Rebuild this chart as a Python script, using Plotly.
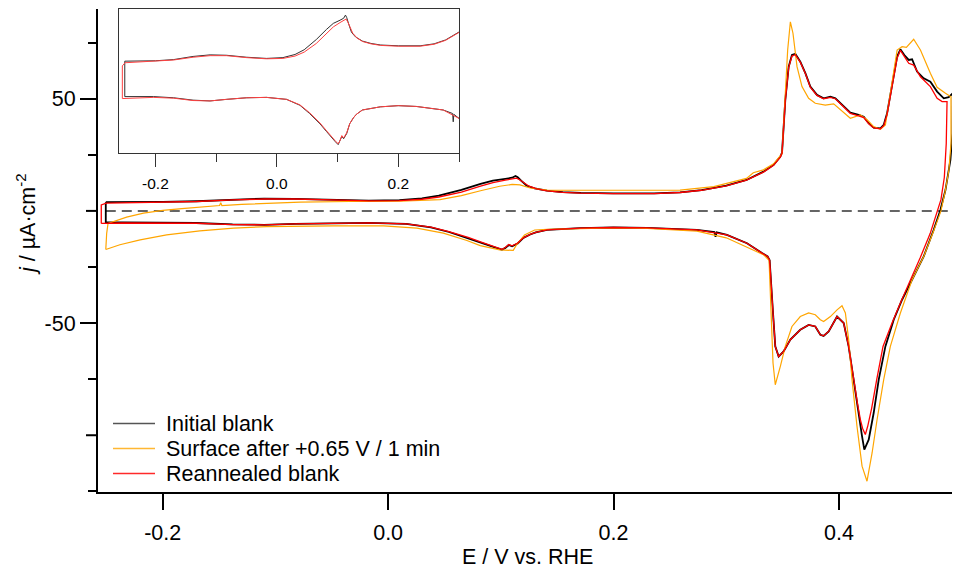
import plotly.graph_objects as go

# ---------------------------------------------------------------------------
# Cyclic voltammograms, E / V vs. RHE and j / uA cm^-2
# Each scan = anodic branch (-0.25 -> 0.5 V) followed by cathodic branch.
# ---------------------------------------------------------------------------

# Initial blank
INITIAL_ANODIC_E = [-0.2505, -0.23, -0.2, -0.17, -0.138, -0.11, -0.083, -0.05, -0.017, 0.01,
                    0.03, 0.045, 0.065, 0.082, 0.093, 0.104, 0.110, 0.113, 0.115, 0.118,
                    0.123, 0.130, 0.141, 0.155, 0.171, 0.2, 0.236, 0.259, 0.278, 0.3,
                    0.318, 0.333, 0.342, 0.348, 0.3495, 0.3524, 0.3554, 0.3583, 0.3613, 0.3657,
                    0.3702, 0.3746, 0.3805, 0.3864, 0.3924, 0.3968, 0.4027, 0.4101, 0.4175, 0.422,
                    0.4264, 0.4308, 0.4368, 0.4397, 0.4427, 0.4471, 0.4516, 0.4545, 0.458, 0.4619,
                    0.4649, 0.4693, 0.4752, 0.4811, 0.4871, 0.493, 0.4974, 0.501]
INITIAL_ANODIC_J = [3.9, 3.9, 4.0, 4.3, 5.1, 5.5, 5.4, 4.9, 4.6, 4.8,
                    5.6, 6.8, 9.4, 12.0, 13.5, 14.3, 14.8, 15.6, 15.0, 13.5,
                    11.2, 10.0, 9.0, 8.4, 8.0, 7.8, 7.8, 8.3, 9.3, 11.3,
                    13.8, 17.5, 20.5, 24.2, 26.0, 49.5, 64.3, 69.5, 70.0, 66.5,
                    61.4, 55.4, 51.7, 50.2, 50.9, 50.2, 47.2, 43.8, 42.8, 42.0,
                    39.1, 37.1, 36.8, 38.3, 43.5, 56.9, 68.8, 72.0, 69.5, 67.3,
                    67.6, 62.1, 59.1, 57.6, 53.2, 50.2, 50.7, 52.4]
INITIAL_CATHODIC_E = [0.5007, 0.4989, 0.4945, 0.49, 0.484, 0.4752, 0.4663, 0.456, 0.4486, 0.4412,
                      0.4353, 0.4308, 0.4264, 0.4225, 0.4205, 0.4175, 0.4131, 0.4086, 0.4042, 0.3983,
                      0.3909, 0.3864, 0.3835, 0.379, 0.3731, 0.3657, 0.3569, 0.3509, 0.3465, 0.3435,
                      0.3415, 0.34, 0.3385, 0.3367, 0.3317, 0.3184, 0.3006, 0.2915, 0.2905, 0.2895,
                      0.274, 0.2296, 0.2, 0.1704, 0.1409, 0.131, 0.126, 0.12, 0.115, 0.110,
                      0.107, 0.104, 0.101, 0.096, 0.093, 0.082, 0.071, 0.054, 0.038, 0.016,
                      -0.017, -0.05, -0.083, -0.11, -0.138, -0.17, -0.203, -0.236, -0.2505]
INITIAL_CATHODIC_J = [34.6, 22.7, 9.3, 0.4, -8.5, -20.3, -29.2, -39.6, -48.5, -60.4,
                      -75.2, -90.1, -102.0, -106.4, -100.5, -90.1, -75.2, -60.4, -50.0, -47.1,
                      -53.7, -55.7, -55.2, -51.5, -50.8, -53.0, -57.4, -62.6, -64.9, -60.4,
                      -45.5, -30.7, -22.0, -20.3, -18.8, -14.4, -10.7, -9.6, -11.5, -9.4,
                      -8.5, -7.6, -7.4, -7.7, -8.5, -9.6, -10.5, -12.0, -14.5, -15.8,
                      -15.2, -16.5, -17.3, -16.5, -16.0, -14.0, -12.0, -9.4, -7.3, -5.8,
                      -5.3, -5.4, -5.8, -6.2, -6.0, -5.4, -5.1, -5.1, -5.1]

# Surface after +0.65 V / 1 min
OXIDISED_ANODIC_E = [-0.2505, -0.2497, -0.2485, -0.243, -0.232, -0.217, -0.2, -0.183, -0.167, -0.1495,
                     -0.1485, -0.1475, -0.13, -0.114, -0.078, -0.034, 0.011, 0.046, 0.065, 0.082,
                     0.099, 0.11, 0.117, 0.126, 0.141, 0.2, 0.259, 0.289, 0.318, 0.324,
                     0.333, 0.342, 0.3495, 0.3545, 0.3569, 0.3592, 0.3628, 0.3672, 0.3731, 0.379,
                     0.3879, 0.3953, 0.4012, 0.4101, 0.419, 0.425, 0.4308, 0.4368, 0.4412, 0.4471,
                     0.4516, 0.456, 0.4598, 0.4663, 0.4723, 0.4811, 0.4871, 0.4945, 0.4994]
OXIDISED_ANODIC_J = [-17.2, -10.0, -5.6, -4.6, -2.8, -1.0, 0.2, 1.0, 1.7, 2.4,
                     3.6, 2.4, 2.9, 3.3, 3.9, 4.2, 4.3, 5.0, 6.8, 9.0,
                     11.0, 11.8, 11.6, 10.2, 9.3, 9.2, 9.3, 10.8, 14.5, 17.0,
                     18.3, 21.0, 25.5, 71.7, 84.3, 79.2, 64.3, 55.4, 50.2, 48.0,
                     47.2, 47.7, 45.0, 41.3, 42.8, 40.6, 37.6, 36.4, 38.3, 58.4,
                     71.7, 73.2, 72.9, 76.5, 71.7, 61.4, 55.1, 52.4, 50.9]
OXIDISED_CATHODIC_E = [0.4994, 0.4975, 0.494, 0.4905, 0.484, 0.4755, 0.4649, 0.4545, 0.4456, 0.4397,
                       0.4338, 0.4294, 0.4249, 0.4205, 0.416, 0.4116, 0.4086, 0.4057, 0.4027, 0.3983,
                       0.3924, 0.3864, 0.3835, 0.379, 0.3731, 0.3657, 0.3583, 0.3524, 0.348, 0.3435,
                       0.3415, 0.3397, 0.3391, 0.338, 0.333, 0.318, 0.3, 0.274, 0.23, 0.2,
                       0.17, 0.141, 0.13, 0.121, 0.114, 0.111, 0.099, 0.0817, 0.0699, 0.049,
                       0.0255, -0.004, -0.0485, -0.1077, -0.137, -0.167, -0.1965, -0.22, -0.238, -0.2505]
OXIDISED_CATHODIC_J = [30.0, 18.0, 8.0, 0.0, -9.0, -20.0, -30.7, -45.5, -60.4, -75.2,
                       -93.1, -107.9, -120.5, -113.8, -96.0, -75.2, -57.4, -45.5, -42.3, -44.1,
                       -47.1, -49.3, -48.5, -46.3, -45.5, -47.1, -51.5, -60.4, -69.3, -77.5,
                       -67.8, -45.5, -30.7, -22.0, -19.5, -16.0, -12.0, -9.0, -7.8, -7.6,
                       -7.8, -8.2, -8.5, -10.7, -15.1, -17.6, -17.4, -15.5, -13.2, -9.9,
                       -7.7, -6.7, -6.7, -7.0, -7.7, -8.9, -10.7, -12.9, -15.1, -17.2]

# Reannealed blank
REANNEALED_ANODIC_E = [-0.2545, -0.2545, -0.25, -0.23, -0.2, -0.17, -0.138, -0.11, -0.083, -0.05,
                       -0.017, 0.01, 0.03, 0.045, 0.065, 0.082, 0.093, 0.104, 0.110, 0.114,
                       0.117, 0.12, 0.125, 0.132, 0.141, 0.155, 0.171, 0.2, 0.236, 0.259,
                       0.278, 0.3, 0.318, 0.333, 0.342, 0.348, 0.3495, 0.3524, 0.3554, 0.3583,
                       0.3613, 0.3657, 0.3702, 0.3746, 0.3805, 0.3864, 0.3924, 0.3968, 0.4027, 0.4101,
                       0.4175, 0.422, 0.4264, 0.4308, 0.4368, 0.4397, 0.4427, 0.4471, 0.4516, 0.4545,
                       0.458, 0.4619, 0.4663, 0.4723, 0.4811, 0.4871, 0.4915, 0.4959]
REANNEALED_ANODIC_J = [-5.6, 2.7, 3.5, 3.7, 3.9, 4.2, 4.9, 5.3, 5.3, 4.8,
                       4.5, 4.6, 5.2, 6.2, 8.4, 11.0, 12.6, 13.7, 14.2, 14.6,
                       13.8, 12.8, 11.0, 9.8, 8.9, 8.3, 7.9, 7.7, 7.7, 8.2,
                       9.2, 11.2, 13.7, 17.3, 20.3, 24.0, 25.8, 49.0, 64.0, 69.0,
                       69.6, 66.3, 61.2, 55.2, 51.5, 50.0, 50.6, 50.0, 47.0, 43.5,
                       42.4, 41.6, 38.8, 37.0, 36.6, 38.0, 43.0, 56.0, 68.0, 71.6,
                       68.8, 65.8, 65.0, 59.8, 55.4, 50.2, 48.7, 48.7]
REANNEALED_CATHODIC_E = [0.4952, 0.4935, 0.4905, 0.4872, 0.481, 0.472, 0.463, 0.4545, 0.4471, 0.4391,
                         0.4335, 0.429, 0.4255, 0.4234, 0.421, 0.419, 0.4165, 0.413, 0.4086, 0.4042,
                         0.3983, 0.3909, 0.3864, 0.3835, 0.379, 0.3731, 0.3657, 0.3569, 0.3509, 0.3465,
                         0.3435, 0.3415, 0.34, 0.3385, 0.3367, 0.3317, 0.3184, 0.3006, 0.274, 0.2296,
                         0.2, 0.1704, 0.1409, 0.131, 0.126, 0.12, 0.115, 0.110, 0.107, 0.104,
                         0.101, 0.096, 0.093, 0.082, 0.071, 0.054, 0.038, 0.016, -0.017, -0.05,
                         -0.083, -0.11, -0.138, -0.17, -0.203, -0.236, -0.2545]
REANNEALED_CATHODIC_J = [30.0, 15.0, 5.0, 0.0, -10.0, -21.0, -31.0, -41.0, -50.0, -60.4,
                         -75.2, -88.0, -96.0, -99.7, -97.0, -93.0, -86.0, -75.0, -60.4, -50.0,
                         -47.1, -53.7, -55.7, -55.2, -51.5, -50.8, -53.0, -57.4, -62.6, -64.9,
                         -60.4, -45.5, -30.7, -22.0, -20.3, -18.8, -14.4, -10.7, -8.5, -7.6,
                         -7.4, -7.7, -8.5, -9.6, -10.5, -12.0, -14.3, -15.6, -15.0, -16.3,
                         -17.1, -16.3, -15.8, -13.8, -11.8, -9.2, -7.2, -5.8, -5.3, -5.4,
                         -5.8, -6.2, -6.1, -5.5, -5.3, -5.4, -5.6]

SERIES = [
    ("Initial blank", "#000000", 1.8,
     INITIAL_ANODIC_E, INITIAL_ANODIC_J, INITIAL_CATHODIC_E, INITIAL_CATHODIC_J),
    ("Surface after +0.65 V / 1 min", "#FFA500", 1.2,
     OXIDISED_ANODIC_E, OXIDISED_ANODIC_J, OXIDISED_CATHODIC_E, OXIDISED_CATHODIC_J),
    ("Reannealed blank", "#FF0000", 1.3,
     REANNEALED_ANODIC_E, REANNEALED_ANODIC_J, REANNEALED_CATHODIC_E, REANNEALED_CATHODIC_J),
]
INSET_SERIES = ["Initial blank", "Reannealed blank"]
INSET_COLORS = {"Initial blank": "#303030", "Reannealed blank": "#FF4040"}

MAIN_X_TICKS = [-0.2, 0.0, 0.2, 0.4]
MAIN_X_LABELS = ["-0.2", "0.0", "0.2", "0.4"]
MAIN_Y_TICKS = [-50, 50]
MAIN_Y_LABELS = ["-50", "50"]
MAIN_Y_MINOR = [-125, -75, -25, 25, 75]
MAIN_Y_MID = [-100, 0]
INSET_X_TICKS = [-0.2, 0.0, 0.2]
INSET_X_LABELS = ["-0.2", "0.0", "0.2"]
INSET_X_MINOR = [-0.1, 0.1, 0.3]

# ---------------------------------------------------------------------------
W, H = 956, 570
ML, MR, MT, MB = 98, 4, 9, 78
PW, PH = W - ML - MR, H - MT - MB


def fx(px):
    return (px - ML) / PW


def fy(py):
    return (H - MB - py) / PH


FONT = "Liberation Sans, Arial, Helvetica, sans-serif"

fig = go.Figure()

for name, color, width, ea, ja, ec, jc in SERIES:
    e = list(ea) + list(ec) + [ea[0]]
    j = list(ja) + list(jc) + [ja[0]]
    fig.add_trace(go.Scatter(x=e, y=j, mode="lines", name=name, showlegend=False,
                             line=dict(color=color, width=width), xaxis="x", yaxis="y"))

for name, color, width, ea, ja, ec, jc in SERIES:
    if name not in INSET_SERIES:
        continue
    e = list(ea) + list(ec) + [ea[0]]
    j = list(ja) + list(jc) + [ja[0]]
    fig.add_trace(go.Scatter(x=e, y=j, mode="lines", name=name, showlegend=False,
                             line=dict(color=INSET_COLORS[name], width=1.0),
                             xaxis="x2", yaxis="y2"))

shapes = []
# zero-current reference lines
shapes.append(dict(type="line", xref="x", yref="y", x0=-0.2505, x1=0.5, y0=0, y1=0,
                   line=dict(color="#333333", width=1.5, dash="10px,6px"), layer="below"))
shapes.append(dict(type="line", xref="x2 domain", yref="y2", x0=0, x1=1, y0=0, y1=0,
                   line=dict(color="#333333", width=1.5, dash="9px,6px"), layer="below"))
# unlabelled intermediate y ticks
for v in MAIN_Y_MID:
    shapes.append(dict(type="line", xref="paper", yref="y", x0=fx(86), x1=fx(98), y0=v, y1=v,
                       line=dict(color="black", width=2)))

# legend drawn as line samples with labels
annotations = []
legend_rows = [423.5, 448.5, 473.5]
legend_colors = {"Initial blank": "#555555", "Surface after +0.65 V / 1 min": "#FFB733",
                 "Reannealed blank": "#FF2A2A"}
for (name, color, *_), ry in zip(SERIES, legend_rows):
    shapes.append(dict(type="line", xref="paper", yref="paper", x0=fx(113), x1=fx(155),
                       y0=fy(ry), y1=fy(ry), line=dict(color=legend_colors[name], width=1.6)))
    annotations.append(dict(xref="paper", yref="paper", x=fx(164), y=fy(ry), text=name,
                            xanchor="left", yanchor="middle", showarrow=False,
                            font=dict(family=FONT, size=21.5, color="black")))

annotations.append(dict(xref="paper", yref="paper", x=fx(527), y=fy(557), text="E / V vs. RHE",
                        xanchor="center", yanchor="middle", showarrow=False,
                        font=dict(family=FONT, size=21.5, color="black")))
annotations.append(dict(xref="paper", yref="paper", x=fx(26), y=fy(224),
                        text="<i>j</i> / µA·cm<sup>-2</sup>", textangle=-90,
                        xanchor="center", yanchor="middle", showarrow=False,
                        font=dict(family=FONT, size=21.5, color="black")))

fig.update_layout(
    width=W, height=H,
    margin=dict(l=ML, r=MR, t=MT, b=MB, pad=0),
    paper_bgcolor="white", plot_bgcolor="white",
    showlegend=False,
    font=dict(family=FONT, size=21.5, color="black"),
    xaxis=dict(range=[-0.2574, 0.5003], domain=[0, 1], anchor="y",
               showline=True, linecolor="black", linewidth=2, mirror=False,
               showgrid=False, zeroline=False,
               ticks="outside", ticklen=16, tickwidth=2, tickcolor="black",
               ticklabelstandoff=4,
               tickmode="array", tickvals=MAIN_X_TICKS, ticktext=MAIN_X_LABELS,
               tickfont=dict(family=FONT, size=21.5, color="black")),
    yaxis=dict(range=[-125.3, 90.0], domain=[0, 1], anchor="x",
               showline=True, linecolor="black", linewidth=2, mirror=False,
               showgrid=False, zeroline=False,
               ticks="outside", ticklen=16, tickwidth=2, tickcolor="black",
               tickmode="array", tickvals=MAIN_Y_TICKS, ticktext=MAIN_Y_LABELS,
               tickfont=dict(family=FONT, size=21.5, color="black"),
               minor=dict(tickvals=MAIN_Y_MINOR, ticks="outside", ticklen=8,
                          tickwidth=2, tickcolor="black")),
    xaxis2=dict(range=[-0.26, 0.3], domain=[fx(119), fx(459)], anchor="y2",
                showline=True, linecolor="#333333", linewidth=1.3, mirror=True,
                showgrid=False, zeroline=False,
                ticks="outside", ticklen=13, tickwidth=1.3, tickcolor="#333333",
                ticklabelstandoff=3,
                tickmode="array", tickvals=INSET_X_TICKS, ticktext=INSET_X_LABELS,
                tickfont=dict(family=FONT, size=15.5, color="black"),
                minor=dict(tickvals=INSET_X_MINOR, ticks="outside", ticklen=8,
                           tickwidth=1.3, tickcolor="#333333")),
    yaxis2=dict(range=[-19.5, 17.15], domain=[fy(153.3), 1], anchor="x2",
                showline=True, linecolor="#333333", linewidth=1.3, mirror=True,
                showgrid=False, zeroline=False, ticks="", showticklabels=False),
    shapes=shapes,
    annotations=annotations,
)

fig.write_html("out.html")
